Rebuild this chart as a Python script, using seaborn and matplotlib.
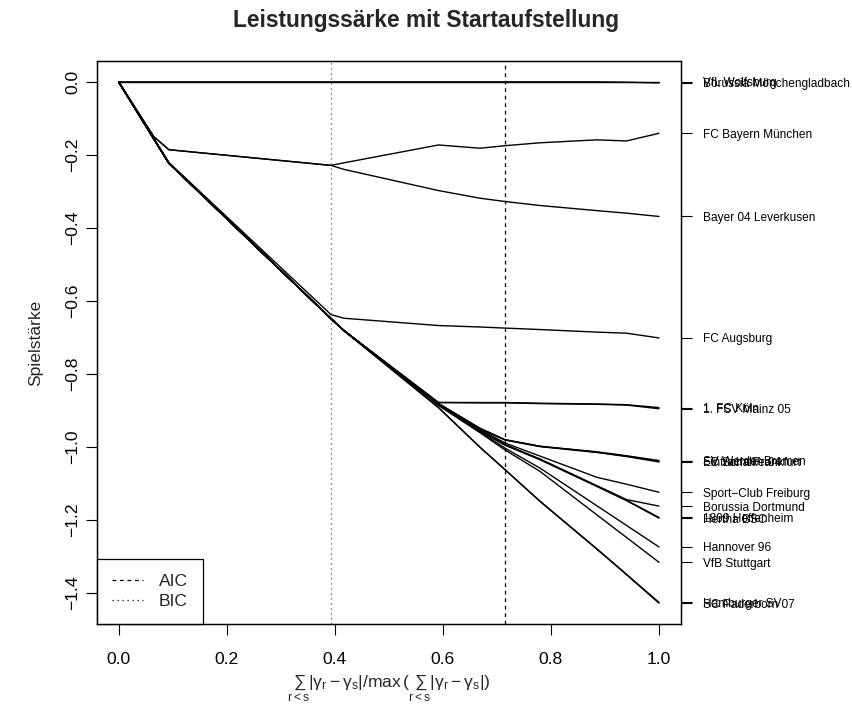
import numpy as np
import pandas as pd
import matplotlib
matplotlib.use("Agg")
import matplotlib.pyplot as plt
from matplotlib.lines import Line2D
import seaborn as sns

# ---------------- data ----------------
x_path = [0.0, 0.065, 0.093, 0.393, 0.417, 0.592, 0.669, 0.715, 0.78, 0.885, 0.94, 1.0]

teams = ["VfL Wolfsburg", "Borussia Mönchengladbach", "FC Bayern München",
         "Bayer 04 Leverkusen", "FC Augsburg", "1. FC Köln", "1. FSV Mainz 05",
         "SV Werder Bremen", "Eintracht Frankfurt", "FC Schalke 04",
         "Sport−Club Freiburg", "Borussia Dortmund", "1899 Hoffenheim",
         "Hertha BSC", "Hannover 96", "VfB Stuttgart", "Hamburger SV",
         "SC Paderborn 07"]

wolfsburg  = [0, 0, 0, 0, 0, 0, 0, 0, 0, 0, 0, 0]
gladbach   = [0, 0, 0, 0, 0, 0, 0, 0, 0, 0, -0.001, -0.003]
bayern     = [0, -0.150, -0.186, -0.229, -0.222, -0.173, -0.182, -0.175, -0.167, -0.159, -0.162, -0.141]
leverkusen = [0, -0.150, -0.186, -0.229, -0.240, -0.298, -0.319, -0.328, -0.339, -0.353, -0.360, -0.369]
augsburg   = [0, -0.156, -0.221, -0.638, -0.648, -0.668, -0.672, -0.675, -0.679, -0.686, -0.689, -0.702]
koeln      = [0, -0.156, -0.223, -0.649, -0.682, -0.879, -0.879, -0.879, -0.881, -0.883, -0.885, -0.893]
mainz      = [0, -0.156, -0.223, -0.649, -0.682, -0.879, -0.880, -0.880, -0.882, -0.884, -0.886, -0.896]
bremen     = [0, -0.156, -0.223, -0.649, -0.682, -0.882, -0.950, -0.981, -0.999, -1.014, -1.025, -1.038]
frankfurt  = [0, -0.156, -0.223, -0.649, -0.682, -0.882, -0.950, -0.981, -0.999, -1.015, -1.026, -1.040]
schalke    = [0, -0.156, -0.223, -0.649, -0.682, -0.882, -0.951, -0.982, -1.000, -1.016, -1.027, -1.042]
freiburg   = [0, -0.156, -0.223, -0.649, -0.682, -0.883, -0.953, -0.990, -1.026, -1.084, -1.103, -1.125]
dortmund   = [0, -0.156, -0.223, -0.649, -0.682, -0.884, -0.956, -0.994, -1.034, -1.107, -1.145, -1.163]
hoffenheim = [0, -0.156, -0.223, -0.649, -0.682, -0.884, -0.957, -0.995, -1.035, -1.108, -1.147, -1.194]
hertha     = [0, -0.156, -0.223, -0.649, -0.682, -0.885, -0.958, -0.996, -1.036, -1.109, -1.148, -1.196]
hannover   = [0, -0.156, -0.223, -0.649, -0.682, -0.886, -0.960, -1.004, -1.059, -1.162, -1.216, -1.275]
stuttgart  = [0, -0.156, -0.223, -0.649, -0.682, -0.887, -0.962, -1.009, -1.068, -1.187, -1.249, -1.317]
hamburg    = [0, -0.156, -0.223, -0.649, -0.682, -0.893, -1.002, -1.063, -1.150, -1.280, -1.350, -1.427]
paderborn  = [0, -0.156, -0.223, -0.649, -0.682, -0.893, -1.002, -1.063, -1.150, -1.281, -1.351, -1.429]

series = [wolfsburg, gladbach, bayern, leverkusen, augsburg, koeln, mainz,
          bremen, frankfurt, schalke, freiburg, dortmund, hoffenheim, hertha,
          hannover, stuttgart, hamburg, paderborn]

aic_x = 0.715
bic_x = 0.393

x_ticks = [0.0, 0.2, 0.4, 0.6, 0.8, 1.0]
y_ticks = [0.0, -0.2, -0.4, -0.6, -0.8, -1.0, -1.2, -1.4]

title = "Leistungssärke mit Startaufstellung"
ylabel = "Spielstärke"
xlabel = r"$\sum_{r<s}|\gamma_r-\gamma_s|/\max\,(\sum_{r<s}|\gamma_r-\gamma_s|)$"

# ---------------- build table ----------------
rows = []
for t, vals in zip(teams, series):
    for xv, yv in zip(x_path, vals):
        rows.append({"team": t, "x": xv, "y": yv})
df = pd.DataFrame(rows)

# ---------------- style ----------------
sns.set_style("ticks")
plt.rcParams["font.family"] = ["Liberation Sans", "DejaVu Sans"]
plt.rcParams["mathtext.fontset"] = "custom"
plt.rcParams["mathtext.rm"] = "Liberation Sans"
plt.rcParams["mathtext.it"] = "Liberation Sans"
plt.rcParams["mathtext.bf"] = "Liberation Sans:bold"
plt.rcParams["axes.unicode_minus"] = True

FS = 12.6
W, H = 853, 705
fig = plt.figure(figsize=(W / 100, H / 100), dpi=100)
left, right, top, bottom = 97, 680.6, 61, 624
ax = fig.add_axes([left / W, 1 - bottom / H, (right - left) / W, (bottom - top) / H])

sns.lineplot(data=df, x="x", y="y", units="team", estimator=None,
             color="black", linewidth=1.0, sort=False, ax=ax, legend=False)

ax.axvline(aic_x, color="black", linestyle=(0, (3, 3)), linewidth=0.9)
ax.axvline(bic_x, color="#555555", linestyle=(0, (1, 3)), linewidth=0.9)

ymin = min(min(s) for s in series)
ymax = max(max(s) for s in series)
yr = ymax - ymin
ax.set_xlim(-0.04, 1.04)
ax.set_ylim(ymin - 0.04 * yr, ymax + 0.04 * yr)

ax.set_xticks(x_ticks)
ax.set_xticklabels([f"{v:.1f}" for v in x_ticks])
ax.set_yticks(y_ticks)
ax.set_yticklabels([f"{v:.1f}".replace("-", "\u2212") for v in y_ticks],
                   rotation=90, va="center")
ax.tick_params(axis="both", direction="out", length=8, width=0.8,
               labelsize=FS, colors="black")
ax.tick_params(axis="x", pad=12)
ax.tick_params(axis="y", pad=4)
for sp in ax.spines.values():
    sp.set_visible(True)
    sp.set_linewidth(0.9)
    sp.set_color("black")

ax.set_xlabel(xlabel, fontsize=FS, labelpad=5)
ax.set_ylabel(ylabel, fontsize=FS, labelpad=16)
fig.text(0.5, 1 - 20 / H, title, fontsize=16.4, fontweight="bold",
         ha="center", va="center")

# right axis with team labels at final values
ax2 = ax.twinx()
ax2.set_ylim(ax.get_ylim())
ends = [s[-1] for s in series]
ax2.set_yticks(ends)
ax2.set_yticklabels(teams)
ax2.tick_params(axis="y", direction="out", length=8, width=0.8,
                labelsize=8.6, pad=8, colors="black")
for sp in ax2.spines.values():
    sp.set_visible(True)
    sp.set_linewidth(0.9)
    sp.set_color("black")

handles = [Line2D([0], [0], color="black", linestyle=(0, (3, 3)), linewidth=0.9),
           Line2D([0], [0], color="black", linestyle=(0, (1, 3)), linewidth=0.9)]
leg = ax.legend(handles, ["AIC", "BIC"], loc="lower left", fontsize=FS,
                frameon=True, fancybox=False, edgecolor="black", framealpha=1,
                borderaxespad=0, handlelength=1.8, borderpad=0.85,
                handletextpad=0.9, labelspacing=0.3)
leg.get_frame().set_linewidth(0.9)

fig.savefig("out.png", dpi=100)
